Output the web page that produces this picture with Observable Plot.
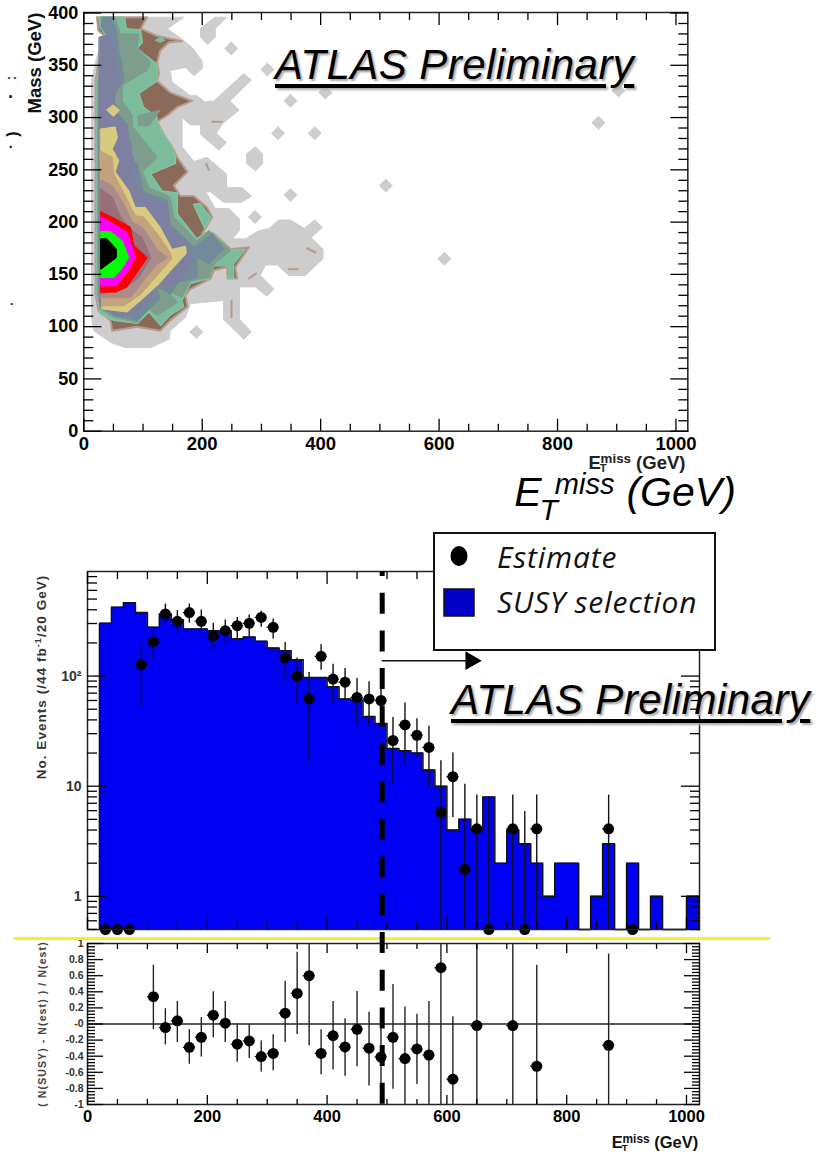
<!DOCTYPE html>
<html><head><meta charset="utf-8">
<script src="https://cdn.jsdelivr.net/npm/d3@7"></script>
<script src="https://cdn.jsdelivr.net/npm/@observablehq/plot@0.6"></script>
<style>
html,body{margin:0;padding:0;background:#fff}
#page{position:relative;width:822px;height:1155px;overflow:hidden;font-family:"Liberation Sans",Arial,sans-serif}
.lab{position:absolute;white-space:nowrap;color:#111}
.atlas{position:absolute;white-space:nowrap;font:italic 42px "Liberation Sans";color:#000;text-shadow:2px 2px 2px #aaa;text-decoration:underline;text-decoration-thickness:4px;text-underline-offset:5px;letter-spacing:.45px}
.sub,.sup{display:inline-block;position:relative}
#legend{position:absolute;left:433px;top:532px;width:279px;height:115px;border:2px solid #111;background:#fff;font-family:"Open Sans";font-style:italic;font-size:30px;letter-spacing:.8px;color:#111}
#legend span{position:absolute;white-space:nowrap}
</style></head><body><div id="page"></div>
<script>
// ---------- 2D map: Mass vs missing ET, contour regions in (GeV, GeV) ----------
const greyBody=[[24,396],[169,396],[141,385],[166,375],[183,367],[200,354],[200,347],[186,340],[172,348],[146,345],[149,334],[180,321],[191,321],[204,315],[220,316],[270,342],[283,336],[247,316],[262,307],[234,294],[224,285],[241,276],[228,269],[197,284],[197,293],[180,293],[166,300],[166,272],[186,258],[208,262],[241,246],[241,233],[267,233],[283,225],[267,219],[236,219],[214,229],[206,229],[222,213],[245,213],[263,203],[263,192],[251,184],[273,184],[296,192],[313,194],[329,202],[349,202],[372,194],[390,202],[403,195],[384,185],[404,174],[404,165],[374,149],[346,149],[327,159],[307,159],[298,149],[321,136],[309,129],[290,138],[263,138],[263,107],[283,95],[270,88],[236,107],[236,125],[180,122],[172,109],[146,96],[144,88],[113,80],[70,80],[45,85],[17,96],[13,109],[13,243],[13,335],[20,354],[28,369],[41,375],[24,383]];
const greyBlob=[[222,396],[241,396],[222,385],[222,377],[209,370],[197,377],[197,385]];
const greyHex=[[290,272],[302,265],[302,256],[290,249],[275,256],[275,265]];
const islandE=[249,310,349,328,390,510,349,289,190,408,869,609,903];
const islandM=[366,346,316,285,285,235,226,205,95,324,295,165,326];
const brownBody=[[22,396],[107,396],[96,385],[124,378],[166,373],[144,372],[129,364],[124,353],[127,343],[124,335],[146,324],[183,316],[158,310],[141,302],[124,296],[135,284],[149,272],[158,262],[175,248],[152,235],[163,225],[186,225],[208,214],[217,205],[200,189],[220,189],[248,174],[279,176],[256,157],[259,146],[243,146],[242,157],[220,154],[214,146],[180,136],[172,130],[175,119],[146,106],[129,96],[90,100],[48,96],[45,106],[25,115],[20,131],[20,252],[20,335],[25,354],[41,375],[25,383]];
const mintBody=[[25,396],[69,396],[72,385],[96,384],[99,372],[90,366],[124,351],[124,335],[93,323],[101,310],[124,300],[124,296],[135,284],[149,272],[155,262],[155,256],[113,246],[132,230],[158,228],[158,208],[191,184],[205,190],[220,189],[248,173],[273,174],[253,160],[253,146],[245,146],[245,158],[220,158],[211,146],[180,141],[166,125],[169,119],[146,111],[130,101],[110,114],[90,103],[51,106],[28,112],[22,131],[22,335],[28,354],[42,375],[28,386]];
const mintIsle=[[185,217],[196,218],[214,205],[204,194]];
const mintDot=[[121,374],[129,377],[137,374],[129,372]];
const sageBody=[[30,396],[53,396],[62,380],[93,380],[90,367],[113,353],[107,345],[65,331],[65,316],[82,302],[82,292],[101,278],[124,262],[99,248],[110,233],[146,224],[152,205],[191,182],[211,192],[248,173],[220,160],[211,147],[180,144],[166,128],[141,135],[158,123],[124,111],[110,117],[90,104],[51,109],[28,117],[24,131],[24,335],[30,354],[44,375],[30,386]];
const sageWedge=[[93,302],[129,307],[110,292],[93,292]];
const slateBody=[[31,396],[48,396],[56,380],[59,364],[65,348],[68,335],[51,323],[53,307],[73,294],[76,281],[82,272],[76,262],[90,256],[96,243],[101,229],[141,221],[146,198],[186,176],[217,189],[236,174],[211,160],[191,166],[191,147],[160,143],[146,131],[124,138],[129,127],[107,115],[90,106],[51,111],[28,119],[26,131],[26,335],[31,353],[45,375],[31,385]];
const purpleBody=[[26,377],[45,380],[53,364],[53,348],[62,335],[51,319],[56,303],[73,292],[73,278],[84,262],[82,243],[101,224],[138,217],[144,195],[177,178],[183,163],[163,144],[144,138],[124,141],[110,125],[87,111],[51,112],[28,119],[26,131]];
const sandBody=[[28,289],[53,291],[57,281],[48,270],[59,259],[53,248],[76,230],[87,214],[104,214],[129,195],[149,174],[172,177],[173,170],[152,157],[127,141],[96,125],[73,114],[31,117]];
const sandDot=[[50,312],[60,307],[50,301],[39,307]];
const tanBody=[[28,268],[48,262],[51,246],[70,225],[87,206],[101,205],[124,189],[146,171],[149,165],[124,149],[96,131],[68,120],[31,120]];
const mauveBody=[[28,241],[48,235],[68,217],[82,200],[99,195],[124,174],[141,166],[124,160],[101,144],[79,128],[28,128]];
const roseBody=[[28,232],[48,224],[62,205],[82,192],[99,185],[113,166],[93,147],[68,136],[28,131]];
const redBody=[[29,210],[54,203],[79,195],[84,178],[107,166],[84,147],[73,138],[54,133],[29,133]];
const magentaBody=[[29,205],[54,197],[73,190],[82,176],[87,166],[76,154],[54,139],[29,139]];
const greenBody=[[29,191],[45,191],[65,182],[76,166],[62,154],[51,147],[29,147]];
const blackBody=[[29,184],[39,184],[55,174],[55,166],[29,155]];
const speckles=[[[217,296],[233,296]],[[249.5,125],[249.5,109]],[[377,175],[391,171]],[[346,155],[361,155]],[[279,146],[291,151]],[[207,256],[211,250]]];

// ---------- Histogram: events per 20 GeV bin (0.5 = empty bin, axis floor) ----------
const binLow=[20,40,60,80,100,120,140,160,180,200,220,240,260,280,300,320,340,360,380,400,420,440,460,480,500,520,540,560,580,600,620,640,660,680,700,720,740,760,780,800,820,840,860,880,900,920,940,960,980,1000,1020];
const susyCounts=[301,421,464,377,277,366,325,267,267,258,258,218,226,207,180,170,141,97,97,80,62,60,43,37,22,21,20,14,10,4,5,4,8,2,4,3,2,1,2,2,0.5,1,3,0.5,2,0.5,1,0.5,0.5,1,1];
const estX=[30,50,70,90,110,130,150,170,190,210,230,250,270,290,310,330,350,370,390,410,430,450,470,490,510,530,550,570,590,610,630,650,670,710,730,750,870,910];
const estVal=[0.5,0.5,0.5,127,204,366,314,377,314,231,258,287,301,341,277,146,100,62,151,94,88,64,62,60,26,36,29,22.5,5.8,12.2,1.76,4.1,0.5,4.1,0.5,4.1,4.1,0.5];
const estHi=[0.5,0.5,0.5,206,277,451,393,451,398,301,323,341,359,387,330,202,146,108,193,128,117,95,89,88,42,57,41,35,17,20,10.4,8.3,8,8.3,5.9,8.3,8.3,0.5];
const estLo=[0.5,0.5,0.5,52,136,293,241,303,246,170,196,217,228,277,217,92,56,17,113,56,60,35,35,34,10.4,16,18,9.6,0.5,5.2,0.5,0.5,0.5,0.5,0.5,0.5,0.5,0.5];

// ---------- Ratio panel ----------
const ratioX=[110,130,150,170,190,210,230,250,270,290,310,330,350,370,390,410,430,450,470,490,510,530,550,570,590,610,650,710,750,870];
const ratioVal=[0.34,-0.045,0.04,-0.29,-0.165,0.11,0.01,-0.25,-0.21,-0.405,-0.365,0.135,0.38,0.6,-0.365,-0.145,-0.285,-0.066,-0.3,-0.41,-0.165,-0.43,-0.31,-0.385,0.7,-0.685,-0.02,-0.02,-0.525,-0.265];
const ratioHi=[0.73,0.19,0.28,-0.07,0.08,0.4,0.28,0,-0.01,-0.21,-0.135,0.53,0.89,1,-0.07,0.28,0.066,0.405,0.145,0.1,0.49,0.21,0.12,0.28,1,0.09,1,1,0.73,0.87];
const ratioLo=[-0.07,-0.26,-0.23,-0.5,-0.41,-0.17,-0.23,-0.475,-0.43,-0.595,-0.58,-0.23,-0.13,-0.27,-0.63,-0.57,-0.65,-0.53,-0.77,-0.8,-0.81,-1,-0.75,-1,-1,-1,-1,-1,-1,-1];

const cutValue=[492];
const arrowY=[138];
const arrowX=[492,636];
const massMajor=[0,50,100,150,200,250,300,350,400];
const xMajor=[0,200,400,600,800,1000];
const xMinor=[50,100,150,250,300,350,450,500,550,650,700,750,850,900,950];
const logMajor=[1,10,100];
const logMinor=[0.5,0.6,0.7,0.8,0.9,2,3,4,5,6,7,8,9,20,30,40,50,60,70,80,90,200,300,400,500,600,700,800];
const ratioMajor=[-1,-0.8,-0.6,-0.4,-0.2,0,0.2,0.4,0.6,0.8,1];
const ratioMinor=[-0.96,-0.92,-0.88,-0.84,-0.76,-0.72,-0.68,-0.64,-0.56,-0.52,-0.48,-0.44,-0.36,-0.32,-0.28,-0.24,-0.16,-0.12,-0.08,-0.04,0.04,0.08,0.12,0.16,0.24,0.28,0.32,0.36,0.44,0.48,0.52,0.56,0.64,0.68,0.72,0.76,0.84,0.88,0.92,0.96];

const bold={fontWeight:"bold",fontFamily:"Liberation Sans"};
const pageEl=document.getElementById("page");
const place=(offset)=>({position:"absolute",left:"0px",top:offset+"px",background:"transparent",overflow:"visible",maxWidth:"none"});
const poly=(pts,fill,stroke,sw=1)=>Plot.line(pts,{x:d=>d[0],y:d=>d[1],curve:"linear-closed",fill,stroke:stroke||fill,strokeWidth:sw});

function ticksX(maj,min,lenMaj,lenMin){
  return ["bottom","top"].flatMap(a=>[
    Plot.axisX(maj,{anchor:a,tickSize:-lenMaj,text:null,strokeWidth:1.3,label:null}),
    Plot.axisX(min,{anchor:a,tickSize:-lenMin,text:null,strokeWidth:1.3,label:null})]);
}
function ticksY(maj,min,lenMaj,lenMin){
  return ["left","right"].flatMap(a=>[
    Plot.axisY(maj,{anchor:a,tickSize:-lenMaj,text:null,strokeWidth:1.3,label:null}),
    Plot.axisY(min,{anchor:a,tickSize:-lenMin,text:null,strokeWidth:1.3,label:null})]);
}

// ===== top map =====
const massMinor=d3.range(0,400,10).filter(v=>v%50);
const mapPlot=Plot.plot({
  width:822,height:470,marginTop:12,marginLeft:83.3,marginRight:134.7,marginBottom:39.3,
  style:place(0),
  x:{domain:[0,1020]},y:{domain:[0,400.5]},
  marks:[
    poly(greyBody,"#cdcdcd"),poly(greyBlob,"#cdcdcd"),poly(greyHex,"#cdcdcd"),
    Plot.dot(islandE.map((x,i)=>[x,islandM[i]]),{x:d=>d[0],y:d=>d[1],symbol:"diamond2",r:6.3,fill:"#cdcdcd"}),
    ...speckles.map(s=>Plot.line(s,{x:d=>d[0],y:d=>d[1],stroke:"#b89a8c",strokeWidth:2})),
    poly(brownBody,"#8b6a59","#b89a8c",2),
    poly(mintBody,"#7cbc9c","#7fc8a2",1.2),
    poly(sageBody,"#7d9d8d"),poly(sageWedge,"#7d9d8d"),
    poly(slateBody,"#74899a"),
    poly(purpleBody,"#7e80a1"),
    poly(mintIsle,"#7cbc9c","#7fc8a2",1.2),poly(mintDot,"#7cbc9c"),
    poly(sandBody,"#d9cb7e"),poly(sandDot,"#d9cb7e"),
    poly(tanBody,"#c3a27d"),poly(mauveBody,"#aa8c8c"),poly(roseBody,"#986f7b"),
    poly(redBody,"#ff0000"),poly(magentaBody,"#ff00ff"),poly(greenBody,"#00ff00"),poly(blackBody,"#000000"),
    Plot.frame({stroke:"#222",strokeWidth:1.5}),
    ...ticksX(xMajor,xMinor,12,7),
    ...ticksY(massMajor,massMinor,18,10),
    Plot.axisX(xMajor,{anchor:"bottom",tickSize:0,tickPadding:6,fontSize:18.5,...bold,label:null,tickFormat:String}),
    Plot.axisY(massMajor,{anchor:"left",tickSize:0,tickPadding:5.5,fontSize:18,...bold,label:null,tickFormat:String})
  ]
});

// ===== ratio panel (under the histogram svg) =====
const ratioRows=ratioX.map((x,i)=>({x,v:ratioVal[i],hi:ratioHi[i],lo:ratioLo[i]}));
const ratioPlot=Plot.plot({
  width:822,height:225,marginTop:13,marginBottom:51,marginLeft:87,marginRight:123,
  style:place(930),
  x:{domain:[0,1021.7]},y:{domain:[-1,1]},
  marks:[
    Plot.ruleY([0],{stroke:"#222",strokeWidth:1.3}),
    Plot.ruleX(ratioRows,{x:"x",y1:"lo",y2:"hi",stroke:"#222",strokeWidth:1.4}),
    Plot.ruleY(ratioRows,{y:"v",x1:d=>d.x-10,x2:d=>d.x+10,stroke:"#222",strokeWidth:1.3}),
    Plot.dot(ratioRows,{x:"x",y:"v",r:5.5,fill:"#000"}),
    Plot.frame({stroke:"#222",strokeWidth:1.5}),
    ...ticksX(xMajor,xMinor,9,5),
    ...ticksY(ratioMajor,ratioMinor,16,8),
    Plot.axisX(xMajor,{anchor:"bottom",tickSize:0,tickPadding:6,fontSize:16.5,...bold,label:null,tickFormat:String}),
    Plot.axisY(ratioMajor,{anchor:"left",tickSize:0,tickPadding:4,fontSize:10.5,...bold,label:null,fill:"#333",
      tickFormat:v=>v===0?"-0":String(v)})
  ]
});

// ===== histogram =====
const histRows=binLow.map((x,i)=>({x,y:susyCounts[i]}));
const outline=[{x:20,y:0.5},...histRows,{x:1020,y:0.5}];
const estRows=estX.map((x,i)=>({x,v:estVal[i],hi:estHi[i],lo:estLo[i]}));
const histPlot=Plot.plot({
  width:822,height:550,marginTop:11,marginBottom:181,marginLeft:87,marginRight:123,
  style:place(560),
  x:{domain:[0,1021.7]},y:{type:"log",domain:[0.5,890]},
  marks:[
    Plot.areaY(histRows,{x:"x",y1:0.5,y2:"y",curve:"step-after",fill:"#0000f2"}),
    Plot.line(outline,{x:"x",y:"y",curve:"step-after",stroke:"#111",strokeWidth:1.5}),
    Plot.ruleX(estRows,{x:"x",y1:"lo",y2:"hi",stroke:"#111",strokeWidth:1.4}),
    Plot.ruleY(estRows,{y:"v",x1:d=>d.x-10,x2:d=>d.x+10,stroke:"#111",strokeWidth:1.3}),
    Plot.dot(estRows,{x:"x",y:"v",r:5.5,fill:"#000"}),
    Plot.frame({stroke:"#222",strokeWidth:1.5}),
    ...ticksX(xMajor,xMinor,12,7),
    ...ticksY(logMajor,logMinor,19,10),
    Plot.axisY(logMajor,{anchor:"left",tickSize:0,tickPadding:6,fontSize:14,...bold,label:null,fill:"#333",
      tickFormat:v=>v===100?"10²":String(v)}),
    Plot.ruleY([0.414],{x1:-122,x2:1140,stroke:"#f9f219",strokeWidth:3}),
    Plot.ruleX(cutValue,{y1:890,y2:0.0128,stroke:"#000",strokeWidth:5,strokeDasharray:"21 16.7",strokeDashoffset:16}),
    Plot.ruleY(arrowY,{x1:arrowX[0],x2:arrowX[1],stroke:"#111",strokeWidth:1.5}),
    Plot.dot(arrowY,{x:()=>arrowX[1]+4,y:d=>d,symbol:"triangle",r:7,rotate:90,fill:"#000"})
  ]
});
pageEl.append(mapPlot,ratioPlot,histPlot);

// ===== text overlays =====
function lab(html,cx,cy,css,rot){
  const d=document.createElement("div");d.className="lab";d.innerHTML=html;
  d.style.cssText+=`left:${cx}px;top:${cy}px;transform:translate(-50%,-50%)${rot?" rotate(-90deg)":""};`+css;
  pageEl.append(d);return d;
}
lab("Mass (GeV)",35,63,"font-weight:bold;font-size:18.5px;",true);
lab("No. Events (/44 fb<sup style='font-size:9px'>-1</sup>/20 GeV)",41,677,"font-weight:bold;font-size:13.5px;letter-spacing:1.05px;color:#333;",true);
lab("( N(SUSY) - N(est) ) / N(est)",42,1024,"font-weight:bold;font-size:10.5px;letter-spacing:1.1px;color:#444;",true);
lab(")",13,134,"font-weight:bold;font-size:16px;",true);
lab("·",11,97,"font-weight:bold;font-size:18px;");
lab("·",11,147,"font-weight:bold;font-size:14px;");
lab("·",12,304,"font-weight:bold;font-size:12px;");
lab(":",11,78,"font-weight:bold;font-size:14px;color:#555;",true);
const et=`E<span class="sub" style="font-size:.6em;top:.3em;margin-left:-.1em">T</span><span class="sup" style="font-size:.72em;top:-.45em;margin-left:-.45em">miss</span>`;
lab(et+" <span>(GeV)</span>",655,1142,"font-weight:bold;font-size:16.5px;");
lab(et+" <span>(GeV)</span>",637,463,"font-weight:bold;font-size:18.5px;color:#222;");
lab(`<span class="sub">E</span><span class="sub" style="font-size:30px;top:14px;margin-left:-2px">T</span><span class="sup" style="font-size:29px;top:-12px;margin-left:-3px">miss</span><span style="margin-left:12px">(GeV)</span>`,625,492,"font-style:italic;font-size:41px;color:#000;");

function atlas(x,baseline){
  const d=document.createElement("div");d.className="atlas";d.textContent="ATLAS Preliminary";
  d.style.left=x+"px";d.style.top=(baseline-38)+"px";pageEl.append(d);
}
atlas(275,79);
atlas(451,714);

const lg=document.createElement("div");lg.id="legend";
lg.innerHTML=`<svg width="60" height="100" style="position:absolute;left:0;top:0"><ellipse cx="24" cy="22" rx="8.5" ry="10" fill="#000"/><rect x="9" y="55" width="30" height="27" fill="#0000c8" stroke="#111" stroke-width="1.5"/></svg><span style="left:62px;top:2px">Estimate</span><span style="left:62px;top:47px">SUSY selection</span>`;
pageEl.append(lg);
</script></body></html>
